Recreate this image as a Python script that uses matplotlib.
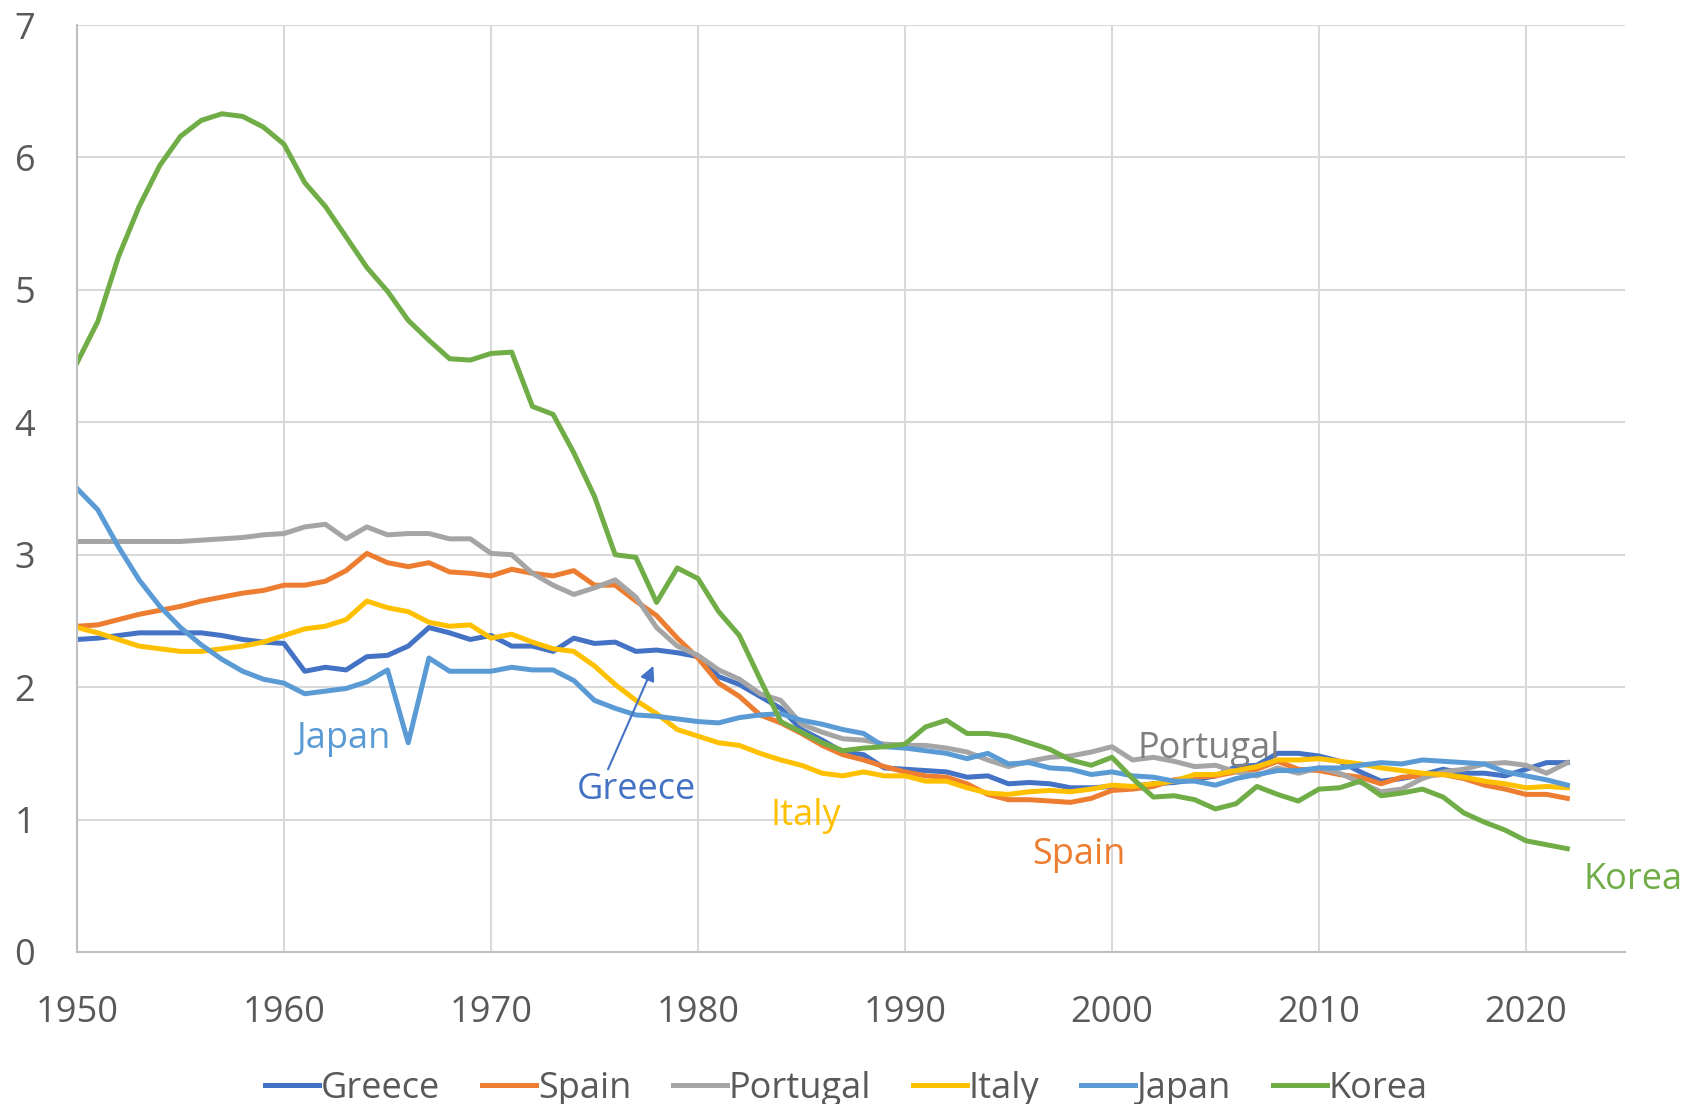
import matplotlib.pyplot as plt
import numpy as np

plt.rcParams['font.family'] = ['Open Sans', 'DejaVu Sans']

years = np.arange(1950, 2023)

greece = [2.36, 2.37, 2.39, 2.41, 2.41, 2.41, 2.41, 2.39, 2.36, 2.34,
          2.33, 2.12, 2.15, 2.13, 2.23, 2.24, 2.31, 2.45, 2.41, 2.36,
          2.39, 2.31, 2.31, 2.27, 2.37, 2.33, 2.34, 2.27, 2.28, 2.26,
          2.23, 2.08, 2.02, 1.93, 1.84, 1.68, 1.60, 1.51, 1.49, 1.39,
          1.38, 1.37, 1.36, 1.32, 1.33, 1.27, 1.28, 1.27, 1.24, 1.24,
          1.25, 1.25, 1.27, 1.28, 1.30, 1.33, 1.40, 1.41, 1.50, 1.50,
          1.48, 1.44, 1.36, 1.29, 1.31, 1.34, 1.38, 1.35, 1.35, 1.33,
          1.38, 1.43, 1.43]
spain = [2.46, 2.47, 2.51, 2.55, 2.58, 2.61, 2.65, 2.68, 2.71, 2.73,
         2.77, 2.77, 2.80, 2.88, 3.01, 2.94, 2.91, 2.94, 2.87, 2.86,
         2.84, 2.89, 2.86, 2.84, 2.88, 2.77, 2.77, 2.65, 2.54, 2.37,
         2.22, 2.03, 1.93, 1.79, 1.73, 1.65, 1.56, 1.49, 1.45, 1.40,
         1.36, 1.33, 1.32, 1.27, 1.19, 1.15, 1.15, 1.14, 1.13, 1.16,
         1.22, 1.23, 1.25, 1.30, 1.32, 1.33, 1.36, 1.38, 1.44, 1.38,
         1.37, 1.34, 1.32, 1.27, 1.32, 1.33, 1.34, 1.31, 1.26, 1.23,
         1.19, 1.19, 1.16]
portugal = [3.10, 3.10, 3.10, 3.10, 3.10, 3.10, 3.11, 3.12, 3.13, 3.15,
            3.16, 3.21, 3.23, 3.12, 3.21, 3.15, 3.16, 3.16, 3.12, 3.12,
            3.01, 3.00, 2.86, 2.77, 2.70, 2.75, 2.81, 2.68, 2.45, 2.31,
            2.24, 2.13, 2.06, 1.95, 1.90, 1.72, 1.66, 1.61, 1.60, 1.57,
            1.56, 1.56, 1.54, 1.51, 1.45, 1.40, 1.44, 1.47, 1.48, 1.51,
            1.55, 1.45, 1.47, 1.44, 1.40, 1.41, 1.36, 1.33, 1.39, 1.35,
            1.39, 1.35, 1.28, 1.21, 1.23, 1.31, 1.36, 1.38, 1.42, 1.43,
            1.41, 1.35, 1.43]
italy = [2.45, 2.41, 2.36, 2.31, 2.29, 2.27, 2.27, 2.29, 2.31, 2.34,
         2.39, 2.44, 2.46, 2.51, 2.65, 2.60, 2.57, 2.49, 2.46, 2.47,
         2.37, 2.40, 2.34, 2.29, 2.27, 2.16, 2.02, 1.90, 1.80, 1.68,
         1.63, 1.58, 1.56, 1.50, 1.45, 1.41, 1.35, 1.33, 1.36, 1.33,
         1.33, 1.29, 1.29, 1.24, 1.20, 1.19, 1.21, 1.22, 1.21, 1.23,
         1.26, 1.25, 1.27, 1.29, 1.34, 1.34, 1.37, 1.40, 1.45, 1.45,
         1.46, 1.44, 1.42, 1.39, 1.37, 1.35, 1.34, 1.32, 1.29, 1.27,
         1.24, 1.25, 1.24]
japan = [3.50, 3.34, 3.06, 2.81, 2.61, 2.45, 2.32, 2.21, 2.12, 2.06,
         2.03, 1.95, 1.97, 1.99, 2.04, 2.13, 1.58, 2.22, 2.12, 2.12,
         2.12, 2.15, 2.13, 2.13, 2.05, 1.90, 1.84, 1.79, 1.78, 1.76,
         1.74, 1.73, 1.77, 1.79, 1.80, 1.75, 1.72, 1.68, 1.65, 1.55,
         1.54, 1.52, 1.50, 1.46, 1.50, 1.42, 1.43, 1.39, 1.38, 1.34,
         1.36, 1.33, 1.32, 1.29, 1.29, 1.26, 1.31, 1.34, 1.37, 1.37,
         1.39, 1.39, 1.41, 1.43, 1.42, 1.45, 1.44, 1.43, 1.42, 1.36,
         1.33, 1.30, 1.26]
korea = [4.45, 4.76, 5.25, 5.63, 5.94, 6.16, 6.28, 6.33, 6.31, 6.23,
         6.10, 5.81, 5.63, 5.40, 5.17, 4.99, 4.77, 4.62, 4.48, 4.47,
         4.52, 4.53, 4.12, 4.06, 3.77, 3.44, 3.00, 2.98, 2.64, 2.90,
         2.82, 2.57, 2.39, 2.06, 1.74, 1.66, 1.58, 1.52, 1.54, 1.55,
         1.57, 1.70, 1.75, 1.65, 1.65, 1.63, 1.58, 1.53, 1.45, 1.41,
         1.47, 1.31, 1.17, 1.18, 1.15, 1.08, 1.12, 1.25, 1.19, 1.14,
         1.23, 1.24, 1.29, 1.18, 1.20, 1.23, 1.17, 1.05, 0.98, 0.92,
         0.84, 0.81, 0.78]

names = ['Greece', 'Spain', 'Portugal', 'Italy', 'Japan', 'Korea']
colors = ['#4472C4', '#ED7D31', '#A5A5A5', '#FFC000', '#5B9BD5', '#70AD47']
series = [greece, spain, portugal, italy, japan, korea]

fig = plt.figure(figsize=(16.93, 11.04), dpi=100)
ax = fig.add_axes([0.0455, 0.1377, 0.9145, 0.8396])

for name, col, vals in zip(names, colors, series):
    ax.plot(years, vals, color=col, lw=3.6, label=name)

ax.set_xlim(1950, 2024.8)
ax.set_ylim(0, 7)
ax.set_xticks(range(1950, 2021, 10))
ax.set_yticks(range(0, 8))
ax.grid(True, color='#D9D9D9', lw=1.5)
ax.set_axisbelow(True)
for s in ['top', 'right']:
    ax.spines[s].set_visible(False)
for s in ['left', 'bottom']:
    ax.spines[s].set_color('#BFBFBF')
    ax.spines[s].set_linewidth(1.5)
ax.tick_params(length=0, labelsize=26, colors='#595959')
ax.tick_params(axis='x', pad=31)
ax.tick_params(axis='y', pad=30)

# labels on the lines
fs = 26
ax.text(1962.9, 1.61, 'Japan', color=colors[4], fontsize=fs, ha='center', va='center')
ax.text(1977.0, 1.22, 'Greece', color=colors[0], fontsize=fs, ha='center', va='center')
ax.annotate('', xy=(1977.9, 2.18), xytext=(1975.6, 1.36),
            arrowprops=dict(arrowstyle='-|>', color=colors[0], lw=1.5, mutation_scale=22))
ax.text(1985.2, 1.03, 'Italy', color=colors[3], fontsize=fs, ha='center', va='center')
ax.text(1998.4, 0.73, 'Spain', color=colors[1], fontsize=fs, ha='center', va='center')
ax.text(2004.7, 1.53, 'Portugal', color='#7F7F7F', fontsize=fs, ha='center', va='center')
ax.text(2025.2, 0.54, 'Korea', color=colors[5], fontsize=fs, ha='center', va='center',
        clip_on=False)

fig.legend(loc='lower center', bbox_to_anchor=(0.5, -0.032), ncol=6, frameon=False,
           fontsize=26, handlelength=1.5, handletextpad=0.05, columnspacing=1.15,
           labelcolor='#595959')

fig.savefig('out.png', dpi=100)
